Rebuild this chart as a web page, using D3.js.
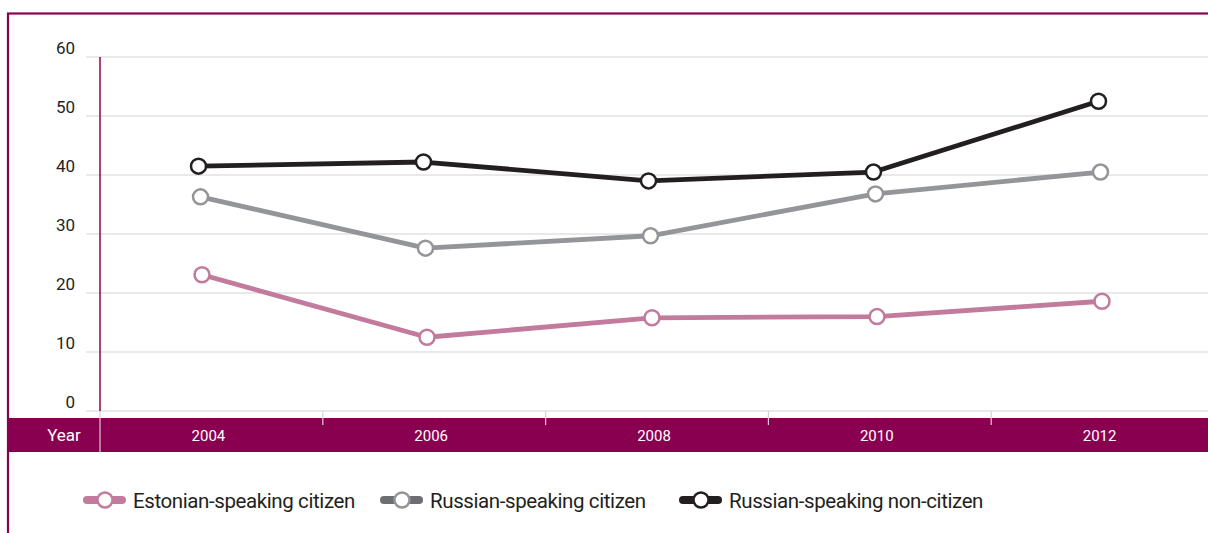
<!DOCTYPE html>
<html><head><meta charset="utf-8">
<script src="https://cdn.jsdelivr.net/npm/d3@7"></script>
<style>
html,body{margin:0;padding:0;background:#fff;}
svg{display:block;}
text{font-family:"Liberation Sans Narrow","Roboto","DejaVu Sans Condensed",sans-serif;}
</style></head>
<body><svg id="c" width="1208" height="533"></svg>
<script>
const years = ["2004","2006","2008","2010","2012"];
const yTicks = [0,10,20,30,40,50,60];
const seriesNames = ["Estonian-speaking citizen","Russian-speaking citizen","Russian-speaking non-citizen"];
const estonianCitizen = [23.1, 12.5, 15.8, 16.0, 18.6];
const russianCitizen = [36.3, 27.6, 29.7, 36.8, 40.5];
const russianNonCitizen = [41.5, 42.2, 39.0, 40.5, 52.5];
const colors = ["#c27b9c","#939598","#231f20"];
const legendSwatch = ["#c27b9c","#6d6e71","#231f20"];

const svg = d3.select("#c");
const magenta = "#8a0050";

// frame
svg.append("rect").attr("x",8).attr("y",13.5).attr("width",1240).attr("height",600)
  .attr("fill","none").attr("stroke",magenta).attr("stroke-width",2.2);

const y = d3.scaleLinear().domain([0,60]).range([411,57]);
const xBand = d3.scaleBand().domain(years).range([100,1214]);
const xPt = d3.scalePoint().domain(years).range([200,1100]);

// gridlines
svg.append("g").selectAll("line").data(yTicks).join("line")
  .attr("x1",86).attr("x2",1208)
  .attr("y1",d=>y(d)).attr("y2",d=>y(d))
  .attr("stroke","#d4d4d4").attr("stroke-width",1.2);

// y labels
svg.append("g").selectAll("text").data(yTicks).join("text")
  .attr("x",75).attr("y",d=>y(d)-3)
  .attr("text-anchor","end").attr("font-size",17).attr("fill","#231f20")
  .text(d=>d);

// y axis line
svg.append("line").attr("x1",100).attr("x2",100).attr("y1",y(60)).attr("y2",y(0))
  .attr("stroke",magenta).attr("stroke-width",1.5);

// x band
svg.append("rect").attr("x",8).attr("y",418).attr("width",1200).attr("height",34).attr("fill",magenta);
svg.append("line").attr("x1",100).attr("x2",100).attr("y1",411).attr("y2",452)
  .attr("stroke","#e0c8d4").attr("stroke-width",1.2);
svg.append("text").attr("x",64).attr("y",441).attr("text-anchor","middle")
  .attr("font-size",17).attr("fill","#fff").text("Year");

// x ticks between categories
svg.append("g").selectAll("line").data(years.slice(1)).join("line")
  .attr("x1",d=>xBand(d)).attr("x2",d=>xBand(d))
  .attr("y1",411).attr("y2",425)
  .attr("stroke","#d4d4d4").attr("stroke-width",1.2);

svg.append("g").selectAll("text").data(years).join("text")
  .attr("x",d=>xBand(d)+xBand.bandwidth()/2-3).attr("y",441)
  .attr("text-anchor","middle").attr("font-size",15).attr("fill","#fff").text(d=>d);

// lines
const data = [estonianCitizen, russianCitizen, russianNonCitizen];
const offsets = [2, 0.5, -1.5];
const line = d3.line().x((d,i)=>xPt(years[i])).y(d=>y(d));
data.forEach((vals,k)=>{
  const g = svg.append("g").attr("transform",`translate(${offsets[k]},0)`);
  g.append("path").datum(vals).attr("d",line).attr("fill","none")
    .attr("stroke",colors[k]).attr("stroke-width",4.8).attr("stroke-linejoin","round");
  g.selectAll("circle").data(vals).join("circle")
    .attr("cx",(d,i)=>xPt(years[i])).attr("cy",d=>y(d)).attr("r",7.5)
    .attr("fill","#fff").attr("stroke",colors[k]).attr("stroke-width",2.5);
});

// legend
const legX = [83, 380, 679];
seriesNames.forEach((name,k)=>{
  const g = svg.append("g").attr("transform",`translate(${legX[k]},500)`);
  g.append("line").attr("x1",4).attr("x2",39).attr("y1",0).attr("y2",0)
    .attr("stroke",k===1?legendSwatch[1]:colors[k]).attr("stroke-width",8).attr("stroke-linecap","round");
  g.append("circle").attr("cx",22).attr("cy",0).attr("r",7.5)
    .attr("fill","#fff").attr("stroke",colors[k]).attr("stroke-width",2.5);
  g.append("text").attr("x",50).attr("y",7.5).attr("font-size",20.5)
    .attr("letter-spacing",-0.4).attr("fill","#231f20").text(name);
});
</script></body></html>
